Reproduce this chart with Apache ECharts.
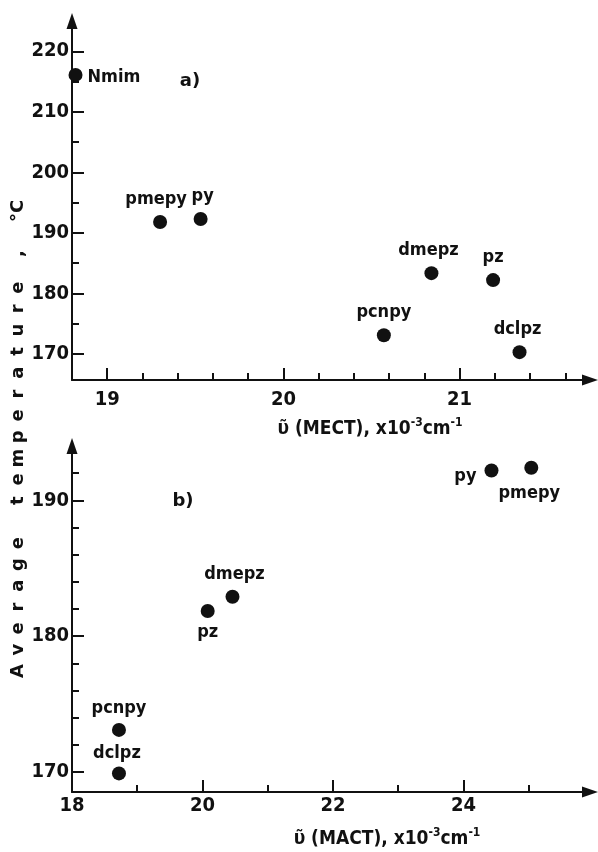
<!DOCTYPE html>
<html>
<head>
<meta charset="utf-8">
<script src="https://cdn.jsdelivr.net/npm/echarts@6/dist/echarts.min.js"></script>
<style>
html,body{margin:0;padding:0;background:#fff;}
#chart{width:598px;height:852px;}
</style>
</head>
<body>
<div id="chart"></div>
<script>
// ---- data: panel a) T vs nu(MECT) ----
const namesA = ['Nmim', 'pmepy', 'py', 'dmepz', 'pz', 'pcnpy', 'dclpz'];
const mectA  = [18.82, 19.30, 19.53, 20.84, 21.19, 20.57, 21.34];
const tempA  = [216.1, 191.8, 192.3, 183.35, 182.2, 173.1, 170.3];

// ---- data: panel b) T vs nu(MACT) ----
const namesB = ['pmepy', 'py', 'dmepz', 'pz', 'pcnpy', 'dclpz'];
const mactB  = [25.04, 24.43, 20.46, 20.08, 18.72, 18.72];
const tempB  = [192.4, 192.2, 182.9, 181.85, 173.1, 169.9];

// ---- ticks ----
const yATicks = [170, 180, 190, 200, 210, 220];
const yAMinor = [175, 185, 195, 205, 215];
const xATicks = [19, 20, 21];
const xAMinor = [19.2, 19.4, 19.6, 19.8, 20.2, 20.4, 20.6, 20.8, 21.2, 21.4, 21.6];
const yBTicks = [170, 180, 190];
const yBMinor = [172, 174, 176, 178, 182, 184, 186, 188, 192];
const xBLabels = [18, 20, 22, 24];
const xBTicks = [20, 22, 24];
const xBMinor = [19, 21, 23, 25];

// ---- texts ----
const yTitleTokens = ['A','v','e','r','a','g','e',' ','t','e','m','p','e','r','a','t','u','r','e',',',' ','°C'];
const xTitleA = ['ῦ (MECT), x10', '-3', 'cm', '-1'];
const xTitleB = ['ῦ (MACT), x10', '-3', 'cm', '-1'];
const panelA = 'a)';
const panelB = 'b)';

// ---- styles (not data) ----
const labelPosA = ['right', 'top', 'top', 'top', 'top', 'top', 'top'];
const labelPosB = ['bottom', 'left', 'top', 'bottom', 'top', 'top'];
const labelDistB = [10, 8, 6, 5, 6, 4];
const labelOffA = [[0, 2], [-4, 0], [2, 0], [-3, 0], [0, 0], [0, 0], [-2, 0]];
const labelOffB = [[-2, 0], [0, 6], [2, 0], [0, 0], [0, 0], [-2, 0]];

const INK = '#111';
const tickFont = "'DejaVu Sans Condensed', 'Liberation Sans Narrow', 'DejaVu Sans', sans-serif";
const lblFont = "'DejaVu Sans Condensed', 'DejaVu Sans', sans-serif";

function mainAxis(grid, min, max, labels, ticks, dir, margin) {
  const isX = dir === 'x';
  return {
    type: 'value', gridIndex: grid, min: min, max: max,
    position: isX ? 'bottom' : 'left',
    axisLine: { show: true, onZero: false, symbol: ['none', 'triangle'], symbolSize: [11, 16],
      lineStyle: { color: INK, width: 2 } },
    axisTick: { show: true, inside: true, length: 12, customValues: ticks,
      lineStyle: { color: INK, width: 2 } },
    axisLabel: { show: true, customValues: labels, margin: margin, color: INK,
      fontFamily: tickFont, fontWeight: 'bold', fontSize: 20,
      formatter: function (v) { return String(Math.round(v)); } },
    splitLine: { show: false }
  };
}
function minorAxis(grid, min, max, ticks, dir) {
  const isX = dir === 'x';
  return {
    type: 'value', gridIndex: grid, min: min, max: max,
    position: isX ? 'bottom' : 'left',
    axisLine: { show: false, onZero: false },
    axisTick: { show: true, inside: true, length: 7, customValues: ticks,
      lineStyle: { color: INK, width: 2 } },
    axisLabel: { show: false },
    splitLine: { show: false }
  };
}

function points(names, xs, ys, pos, dist, off) {
  return names.map(function (n, i) {
    return { name: n, value: [xs[i], ys[i]],
      label: { position: pos[i], distance: dist[i], offset: off[i] } };
  });
}

const seriesLabel = { show: true, formatter: '{b}', color: INK, fontFamily: lblFont,
  fontWeight: 'bold', fontSize: 18 };

// y-axis title: one glyph per slot, reading bottom-to-top
const titleGraphics = [];
for (let i = 0; i < yTitleTokens.length; i++) {
  const ch = yTitleTokens[i];
  if (ch === ' ') continue;
  const slot = ch === '°C' ? 21.6 : (ch === ',' ? 19.6 : i);
  titleGraphics.push({
    type: 'text', x: 18, y: 671 - slot * 21.3, rotation: Math.PI / 2,
    style: { text: ch, fill: INK, fontSize: 18, fontWeight: 'bold',
      fontFamily: "'DejaVu Sans', sans-serif", align: 'center', verticalAlign: 'middle' }
  });
}

function xTitle(parts, cx, cy) {
  return {
    type: 'text', x: cx, y: cy,
    style: {
      text: '{a|' + parts[0] + '}{s|' + parts[1] + '}{a|' + parts[2] + '}{s|' + parts[3] + '}',
      align: 'center', verticalAlign: 'middle',
      rich: {
        a: { fontSize: 19, fontWeight: 'bold', fontFamily: lblFont, fill: INK, color: INK, lineHeight: 22, verticalAlign: 'bottom' },
        s: { fontSize: 12, fontWeight: 'bold', fontFamily: lblFont, fill: INK, color: INK, lineHeight: 22, verticalAlign: 'top' }
      }
    }
  };
}

const chart = echarts.init(document.getElementById('chart'), null, { renderer: 'canvas' });
chart.setOption({
  backgroundColor: '#fff',
  animation: false,
  grid: [
    { left: 72, top: 21, right: 8, height: 359, containLabel: false },
    { left: 72, top: 446, right: 8, bottom: 60, containLabel: false }
  ],
  xAxis: [
    mainAxis(0, 18.8, 21.74, xATicks, xATicks, 'x', 10),
    minorAxis(0, 18.8, 21.74, xAMinor, 'x'),
    mainAxis(1, 18, 25.94, xBLabels, xBTicks, 'x', 4),
    minorAxis(1, 18, 25.94, xBMinor, 'x')
  ],
  yAxis: [
    mainAxis(0, 165.7, 225, yATicks, yATicks, 'y', 3),
    minorAxis(0, 165.7, 225, yAMinor, 'y'),
    mainAxis(1, 168.53, 194, yBTicks, yBTicks, 'y', 3),
    minorAxis(1, 168.53, 194, yBMinor, 'y')
  ],
  series: [
    { type: 'scatter', xAxisIndex: 0, yAxisIndex: 0, symbolSize: 14, clip: true,
      itemStyle: { color: INK, opacity: 1 }, label: seriesLabel,
      data: points(namesA, mectA, tempA, labelPosA, [5, 7, 7, 7, 7, 7, 7], labelOffA) },
    { type: 'scatter', xAxisIndex: 2, yAxisIndex: 2, symbolSize: 14, clip: true,
      itemStyle: { color: INK, opacity: 1 }, label: seriesLabel,
      data: points(namesB, mactB, tempB, labelPosB, labelDistB, labelOffB) }
  ],
  graphic: titleGraphics.concat([
    { type: 'text', x: 190, y: 81, style: { text: panelA, fill: INK, fontSize: 18, fontWeight: 'bold',
      fontFamily: "'DejaVu Sans', sans-serif", align: 'center', verticalAlign: 'middle' } },
    { type: 'text', x: 183, y: 501, style: { text: panelB, fill: INK, fontSize: 18, fontWeight: 'bold',
      fontFamily: "'DejaVu Sans', sans-serif", align: 'center', verticalAlign: 'middle' } },
    xTitle(xTitleA, 370, 428),
    xTitle(xTitleB, 387, 838)
  ])
});
</script>
</body>
</html>
